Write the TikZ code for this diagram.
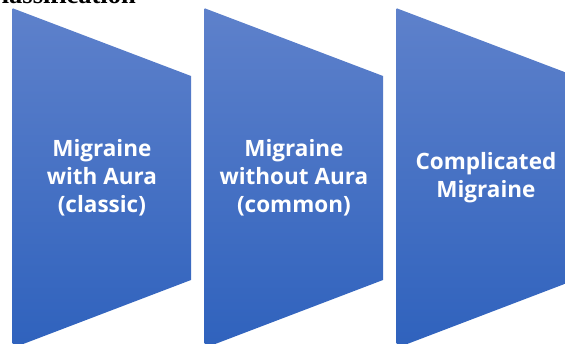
\documentclass[tikz,border=0pt]{standalone}
\usepackage{fontspec}
\usepackage{tikz}
\newfontfamily\stagefont{Open Sans}
\newfontfamily\headfont{Liberation Serif}
\definecolor{stagetop}{RGB}{94,129,203}
\definecolor{stagebottom}{RGB}{47,98,189}

\begin{document}
\begin{tikzpicture}[x=1pt, y=1pt,
    stage/.style={top color=stagetop, bottom color=stagebottom, draw=none},
    stagetext/.style={text=white, align=center, inner sep=0, font=\stagefont\bfseries\fontsize{22.5}{28}\selectfont},
]
    \useasboundingbox (0,0) rectangle (565,344);
    \clip (0,0) rectangle (565,344);

    % Heading (cut at the top)
    \node[anchor=base west, inner sep=0, font=\headfont\bfseries\fontsize{26.5}{30}\selectfont] (heading) at (-17.5,340) {Classification};

    % Stages
    \foreach \x in {12.7, 204.7, 396.7}
        \path[stage] (\x,335.7) -- (\x+178.3,268) -- (\x+178.3,64) -- (\x,-4) -- cycle;

    % Labels
    \node[stagetext] (withaura) at (101.9,166) {Migraine\\with Aura\\(classic)};
    \node[stagetext] (withoutaura) at (293.9,166) {Migraine\\without Aura\\(common)};
    \node[stagetext] (complicated) at (485.9,166) {Complicated\\Migraine};
\end{tikzpicture}
\end{document}
